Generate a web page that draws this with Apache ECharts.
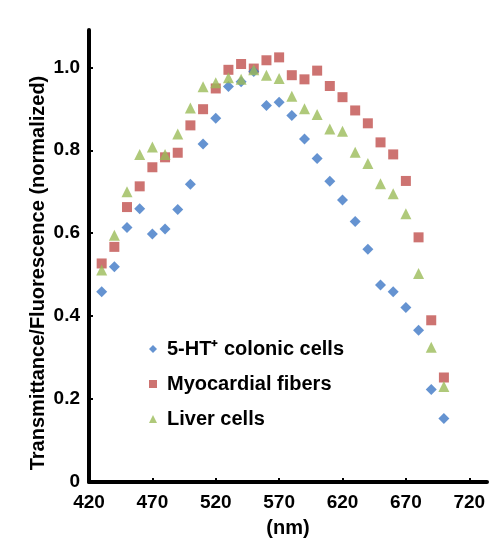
<!DOCTYPE html>
<html>
<head>
<meta charset="utf-8">
<script src="https://cdn.jsdelivr.net/npm/echarts@6/dist/echarts.min.js"></script>
<style>html,body{margin:0;padding:0;background:#fff;}#c{width:500px;height:543px;}</style>
</head>
<body>
<div id="c"></div>
<script>
var wavelengths = [430,440,450,460,470,480,490,500,510,520,530,540,550,560,570,580,590,600,610,620,630,640,650,660,670,680,690,700];
var colonic = [0.459,0.519,0.614,0.659,0.598,0.610,0.657,0.718,0.815,0.877,0.954,0.965,0.99,0.908,0.916,0.884,0.827,0.780,0.725,0.680,0.628,0.561,0.475,0.459,0.421,0.366,0.223,0.153];
var myocardial = [0.527,0.567,0.663,0.713,0.759,0.783,0.794,0.860,0.899,0.949,0.994,1.008,0.997,1.017,1.024,0.981,0.971,0.992,0.955,0.928,0.896,0.865,0.819,0.790,0.726,0.590,0.390,0.252];
var liver = [0.511,0.595,0.700,0.790,0.808,0.790,0.839,0.902,0.953,0.963,0.975,0.971,0.994,0.981,0.973,0.930,0.900,0.886,0.851,0.846,0.795,0.768,0.719,0.695,0.647,0.503,0.325,0.230];
var seriesNames = ['5-HT\u207A colonic cells','Myocardial fibers','Liver cells'];
var xTicks = [420,470,520,570,620,670,720];
var yTicks = [0,0.2,0.4,0.6,0.8,1.0];

function pairs(vals){ return wavelengths.map(function(w,i){ return [w, vals[i]]; }); }

var font = '"Liberation Sans", Arial, sans-serif';
var chart = echarts.init(document.getElementById('c'), null, {renderer:'canvas'});
chart.setOption({
  animation: false,
  backgroundColor: '#fff',
  grid: {left: 89, right: 13, top: 30, bottom: 61},
  legend: {
    orient: 'vertical', left: 144, top: 334, itemGap: 15,
    itemWidth: 8, itemHeight: 8,
    textStyle: {fontFamily: font, fontWeight: 'bold', fontSize: 20, color: '#000', padding: [0, 0, 0, 5]},
    data: seriesNames
  },
  xAxis: {
    type: 'value', min: 420, max: 734, interval: 50,
    name: '(nm)', nameLocation: 'middle', nameGap: 36, nameMoveOverlap: false,
    nameTextStyle: {fontFamily: font, fontWeight: 'bold', fontSize: 20, color: '#000'},
    axisLine: {lineStyle: {color: '#000', width: 4}},
    axisTick: {inside: true, length: 4, lineStyle: {color: '#000', width: 2}, customValues: xTicks},
    axisLabel: {fontFamily: font, fontWeight: 'bold', fontSize: 19, color: '#000', margin: 11, customValues: xTicks},
    splitLine: {show: false}
  },
  yAxis: {
    type: 'value', min: 0, max: 1.09, interval: 0.2,
    name: 'Transmittance/Fluorescence (normalized)', nameLocation: 'middle', nameGap: 41, nameMoveOverlap: false,
    nameTextStyle: {fontFamily: font, fontWeight: 'bold', fontSize: 20, color: '#000', padding: [0, 34, 0, 0]},
    axisLine: {lineStyle: {color: '#000', width: 4}},
    axisTick: {inside: true, length: 4, lineStyle: {color: '#000', width: 2}, customValues: yTicks},
    axisLabel: {fontFamily: font, fontWeight: 'bold', fontSize: 19, color: '#000', margin: 9, customValues: yTicks,
      formatter: function(v){ return v === 0 ? '0' : v.toFixed(1); }},
    splitLine: {show: false}
  },
  series: [
    {name: seriesNames[0], type: 'scatter', symbol: 'diamond', symbolSize: 11, itemStyle: {color: '#3F78C6'}, data: pairs(colonic), z: 3},
    {name: seriesNames[1], type: 'scatter', symbol: 'rect', symbolSize: 10, itemStyle: {color: '#C0504D'}, data: pairs(myocardial), z: 2},
    {name: seriesNames[2], type: 'scatter', symbol: 'triangle', symbolSize: 11, itemStyle: {color: '#9BBB59'}, data: pairs(liver), z: 4}
  ]
});
</script>
</body>
</html>
